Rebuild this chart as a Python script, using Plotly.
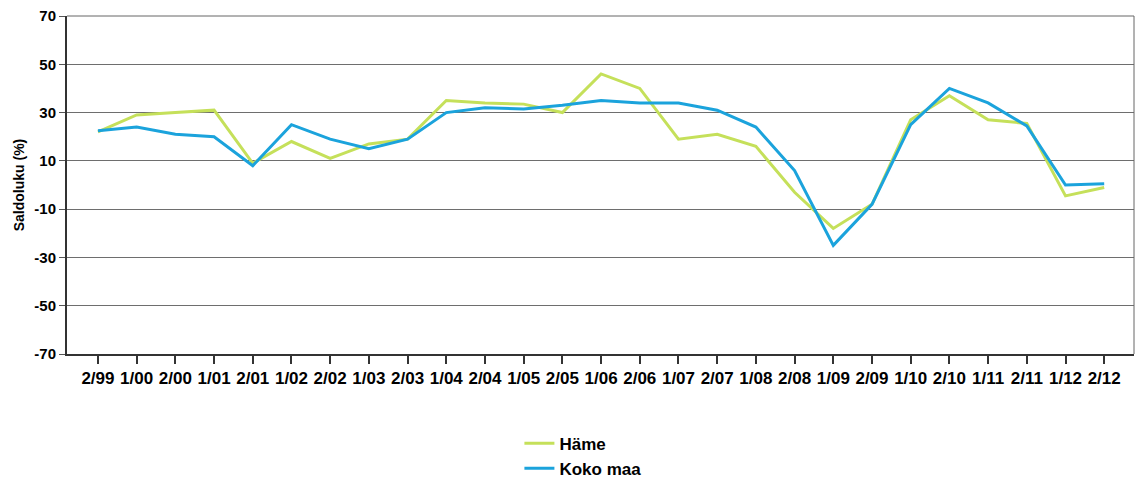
import plotly.graph_objects as go

categories = ["2/99", "1/00", "2/00", "1/01", "2/01", "1/02", "2/02", "1/03", "2/03",
              "1/04", "2/04", "1/05", "2/05", "1/06", "2/06", "1/07", "2/07", "1/08",
              "2/08", "1/09", "2/09", "1/10", "2/10", "1/11", "2/11", "1/12", "2/12"]
hame = [22, 29, 30, 31, 9, 18, 11, 17, 19, 35, 34, 33.5, 30, 46, 40, 19, 21, 16,
        -3, -18, -8, 27, 37, 27, 25.5, -4.5, -1]
koko_maa = [22.5, 24, 21, 20, 8, 25, 19, 15, 19, 30, 32, 31.5, 33, 35, 34, 34, 31, 24,
            6, -25, -8, 25, 40, 34, 24.5, 0, 0.5]
y_ticks = [70, 50, 30, 10, -10, -30, -50, -70]

font = "Liberation Sans, Arial, sans-serif"

fig = go.Figure()
fig.add_trace(go.Scatter(x=categories, y=hame, mode="lines", name="Häme",
                         line=dict(color="#c5e05a", width=3)))
fig.add_trace(go.Scatter(x=categories, y=koko_maa, mode="lines", name="Koko maa",
                         line=dict(color="#1ba3dc", width=3)))

# figure is a little taller than the window so the legend's padding fits
# without shrinking the plot area; the page is clipped to 480 px below
fig.update_layout(
    width=1136, height=494,
    margin=dict(l=67, r=2, t=16, b=140),
    paper_bgcolor="white", plot_bgcolor="white",
    font=dict(family=font, size=14, color="black"),
    showlegend=True,
    legend=dict(x=0.424, xanchor="left", y=-0.212, yanchor="top",
                font=dict(family=font, size=17, color="black", weight="bold"),
                tracegroupgap=0, itemwidth=30),
    xaxis=dict(type="category", range=[-0.8, len(categories) - 0.23],
               automargin=False,
               showline=True, linecolor="#333", linewidth=2, mirror=False,
               ticks="outside", ticklen=8, tickcolor="#333", tickwidth=2,
               showgrid=False,
               tickfont=dict(family=font, size=17, color="black", weight="bold")),
    yaxis=dict(range=[-70, 70], tickvals=y_ticks, ticktext=[str(v) for v in y_ticks],
               automargin=False,
               showline=True, linecolor="#333", linewidth=2,
               ticks="outside", ticklen=6, tickcolor="#555", tickwidth=1,
               showgrid=True, gridcolor="#6e6e6e", gridwidth=1, zeroline=False,
               tickfont=dict(family=font, size=15, color="black", weight="bold"),
               title=dict(text="Saldoluku (%)", standoff=6,
                          font=dict(family=font, size=14, color="black", weight="bold"))),
)
# right/top frame
fig.update_layout(shapes=[
    dict(type="line", xref="paper", yref="paper", x0=1, x1=1, y0=0, y1=1,
         line=dict(color="#666", width=1)),
    dict(type="line", xref="paper", yref="paper", x0=0, x1=1, y0=1, y1=1,
         line=dict(color="#666", width=1)),
])

post = """
var de = document.documentElement, b = document.body;
b.style.margin = '0'; b.style.padding = '0';
de.style.overflow = 'hidden'; b.style.overflow = 'hidden';
b.style.height = '480px'; de.style.height = '480px';
var gd = document.getElementsByClassName('plotly-graph-div')[0];
var wrap = gd.parentElement;
wrap.style.position = 'relative'; wrap.style.width = '1136px';
wrap.style.height = '480px'; wrap.style.overflow = 'hidden';
gd.style.position = 'absolute'; gd.style.left = '0px'; gd.style.top = '0px';
"""
fig.write_html("out.html", config={"displayModeBar": False}, post_script=post)
